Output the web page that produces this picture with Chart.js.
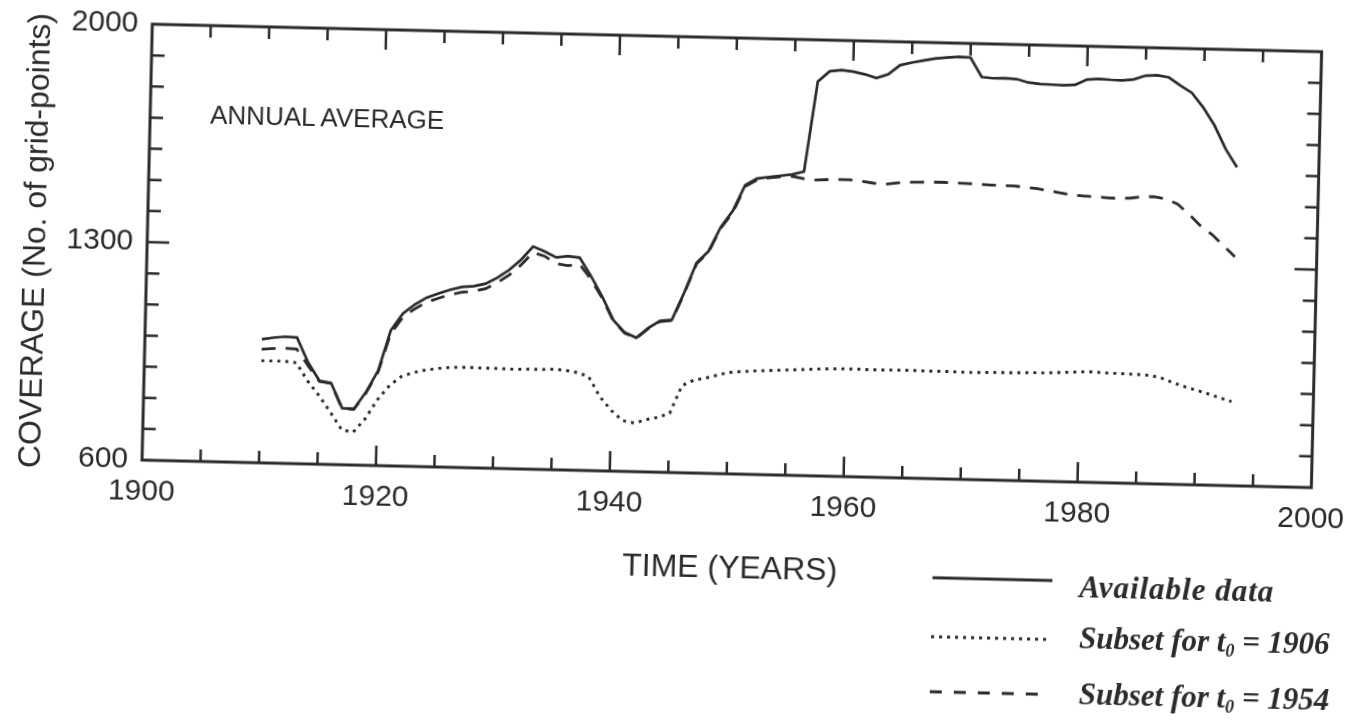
<!DOCTYPE html>
<html>
<head>
<meta charset="utf-8">
<script src="https://cdn.jsdelivr.net/npm/chart.js@4.4.1/dist/chart.umd.min.js"></script>
<style>
html,body{margin:0;padding:0;background:#ffffff;overflow:hidden;}
#wrap{position:relative;width:1364px;height:721px;background:#ffffff;
  transform:rotate(1.35deg);transform-origin:736px 256.5px;}
#c{position:absolute;left:0;top:0;}
.t{position:absolute;font-family:"Liberation Sans",Arial,sans-serif;color:#2b2b2b;white-space:nowrap;line-height:1;}
.lg{position:absolute;font-family:"Liberation Serif","Times New Roman",serif;font-weight:bold;font-style:italic;color:#2b2b2b;white-space:nowrap;line-height:1;font-size:31px;transform:translateY(-50%);}
.lg sub{font-size:18px;vertical-align:-5px;}
</style>
</head>
<body>
<div id="wrap">
<canvas id="c" width="1364" height="721"></canvas>
<div class="t" style="left:34px;top:257px;font-size:32px;transform:translate(-50%,-50%) rotate(-90deg);">COVERAGE (No. of grid-points)</div>
<div class="t" style="left:737px;top:567px;font-size:32px;transform:translate(-50%,-50%);">TIME (YEARS)</div>
<div class="t" style="left:207px;top:127px;font-size:26px;transform:translateY(-50%);">ANNUAL AVERAGE</div>
<svg style="position:absolute;left:930px;top:550px;" width="140" height="160">
  <line x1="10" y1="23" x2="130" y2="23" stroke="#2b2b2b" stroke-width="3"/>
  <line x1="10" y1="82" x2="126" y2="82" stroke="#2b2b2b" stroke-width="2.8" stroke-dasharray="3 5"/>
  <line x1="10" y1="137" x2="124" y2="137" stroke="#2b2b2b" stroke-width="3" stroke-dasharray="12 12"/>
</svg>
<div class="lg" style="left:1087px;top:578px;letter-spacing:1px;">Available data</div>
<div class="lg" style="left:1088px;top:631px;">Subset for t<sub>0</sub> = 1906</div>
<div class="lg" style="left:1089px;top:687px;">Subset for t<sub>0</sub> = 1954</div>
</div>
<script>
// ---- data ----
const years = [1910,1911,1912,1913,1914,1915,1916,1917,1918,1919,
  1920,1921,1922,1923,1924,1925,1926,1927,1928,1929,
  1930,1931,1932,1933,1934,1935,1936,1937,1938,1939,
  1940,1941,1942,1943,1944,1945,1946,1947,1948,1949,
  1950,1951,1952,1953,1954,1955,1956,1957,1958,1959,
  1960,1961,1962,1963,1964,1965,1966,1967,1968,1969,
  1970,1971,1972,1973,1974,1975,1976,1977,1978,1979,
  1980,1981,1982,1983,1984,1985,1986,1987,1988,1989,
  1990,1991,1992,1993];

const availableData = [997,1003,1007,1005,926,868,862,782,780,835,
  905,1035,1090,1120,1143,1157,1170,1180,1183,1192,
  1212,1238,1272,1315,1300,1282,1287,1283,1225,1160,
  1085,1046,1030,1062,1086,1090,1178,1275,1313,1392,
  1445,1528,1550,1556,1561,1566,1576,1866,1900,1905,
  1901,1893,1882,1895,1925,1934,1942,1949,1953,1956,
  1955,1893,1890,1891,1889,1879,1875,1874,1873,1875,
  1893,1896,1894,1893,1897,1910,1912,1906,1881,1858,
  1812,1755,1680,1623];

const subset1906 = [928,928,928,924,866,820,768,712,706,750,
  812,858,888,901,910,916,920,922,922,921,
  921,920,920,921,921,923,920,914,902,838,
  795,763,756,768,776,790,880,898,906,916,
  926,929,932,934,936,938,940,942,944,945,
  946,946,945,945,946,946,946,945,945,945,
  944,944,945,946,946,947,948,948,950,952,
  954,955,953,952,951,950,948,940,926,914,
  904,893,881,870];

const subset1954 = [965,968,970,968,916,866,860,780,779,832,
  900,1025,1078,1106,1128,1142,1154,1163,1167,1176,
  1196,1222,1255,1296,1285,1262,1256,1262,1215,1155,
  1082,1044,1028,1060,1084,1088,1175,1272,1310,1388,
  1440,1524,1546,1553,1557,1560,1553,1550,1552,1553,
  1553,1549,1544,1542,1547,1550,1551,1552,1552,1551,
  1550,1549,1547,1546,1546,1542,1539,1533,1527,1521,
  1519,1517,1515,1514,1516,1521,1522,1515,1500,1468,
  1432,1405,1370,1335];

const xTickValues = [1900,1920,1940,1960,1980,2000];
const yTickValues = [600,1300,2000];
const xMinorTicks = [1905,1910,1915,1920,1925,1930,1935,1940,1945,1950,1955,1960,1965,1970,1975,1980,1985,1990,1995];
const yMinorTicks = [700,800,900,1000,1100,1200,1300,1400,1500,1600,1700,1800,1900];

// ---- chart ----
const ink = '#2b2b2b';
const pts = arr => years.map((yr, i) => ({x: yr, y: arr[i]}));

const framePlugin = {
  id: 'frame',
  afterDatasetsDraw(chart) {
    const {ctx, chartArea: {left, right, top, bottom}, scales: {x, y}} = chart;
    ctx.save();
    ctx.strokeStyle = ink;
    ctx.lineWidth = 3;
    ctx.strokeRect(left, top, right - left, bottom - top);
    ctx.lineWidth = 2.5;
    ctx.beginPath();
    xMinorTicks.forEach(v => {
      const p = x.getPixelForValue(v);
      const L = xTickValues.includes(v) ? 20 : 12;
      ctx.moveTo(p, bottom); ctx.lineTo(p, bottom - L);
      ctx.moveTo(p, top); ctx.lineTo(p, top + L);
    });
    yMinorTicks.forEach(v => {
      const p = y.getPixelForValue(v);
      const L = yTickValues.includes(v) ? 22 : 13;
      ctx.moveTo(left, p); ctx.lineTo(left + L, p);
      ctx.moveTo(right, p); ctx.lineTo(right - L, p);
    });
    ctx.stroke();
    ctx.restore();
  }
};

const tickFont = {family: '"Liberation Sans", Arial, sans-serif', size: 30};

new Chart(document.getElementById('c'), {
  type: 'line',
  data: {
    datasets: [
      {label: 'Available data', data: pts(availableData), borderColor: ink, borderWidth: 2.7,
       pointRadius: 0, tension: 0, fill: false},
      {label: 'Subset for t0 = 1906', data: pts(subset1906), borderColor: ink, borderWidth: 2.9,
       borderDash: [3, 5], borderCapStyle: 'butt', pointRadius: 0, tension: 0, fill: false},
      {label: 'Subset for t0 = 1954', data: pts(subset1954), borderColor: ink, borderWidth: 2.8,
       borderDash: [14, 10], borderCapStyle: 'butt', pointRadius: 0, tension: 0, fill: false}
    ]
  },
  options: {
    responsive: false,
    animation: false,
    layout: {padding: {left: 47, top: 38, right: 39, bottom: 187}},
    plugins: {legend: {display: false}, tooltip: {enabled: false}},
    scales: {
      x: {
        type: 'linear', min: 1900, max: 2000,
        afterBuildTicks: s => { s.ticks = xTickValues.map(v => ({value: v})); },
        afterFit: s => { s.height = 60; },
        grid: {display: false, drawTicks: false, tickLength: 0},
        border: {display: false},
        ticks: {font: tickFont, color: ink, padding: 14, maxRotation: 0, autoSkip: false,
                callback: v => String(v)}
      },
      y: {
        type: 'linear', min: 600, max: 2000,
        afterBuildTicks: s => { s.ticks = yTickValues.map(v => ({value: v})); },
        afterFit: s => { s.width = 100; },
        grid: {display: false, drawTicks: false, tickLength: 0},
        border: {display: false},
        ticks: {font: tickFont, color: ink, padding: 14, autoSkip: false,
                callback: v => String(v)}
      }
    }
  },
  plugins: [framePlugin]
});
</script>
</body>
</html>
